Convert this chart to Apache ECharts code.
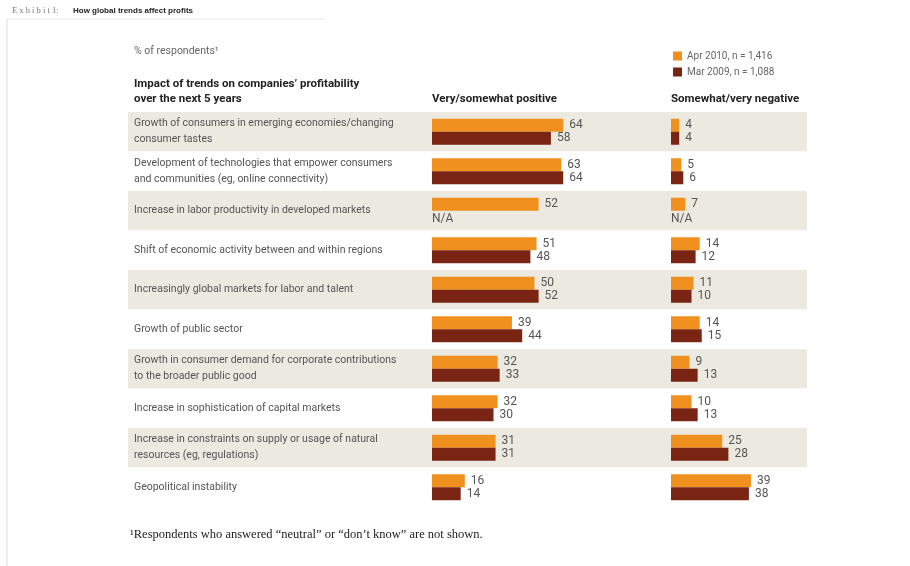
<!DOCTYPE html>
<html>
<head>
<meta charset="utf-8">
<script src="https://cdn.jsdelivr.net/npm/echarts@6/dist/echarts.min.js"></script>
<style>
  html, body { margin: 0; padding: 0; background: #fff; }
  #chart { width: 910px; height: 566px; }
</style>
</head>
<body>
<div id="chart"></div>
<script>
const trends = [
  "Growth of consumers in emerging economies/changing\nconsumer tastes",
  "Development of technologies that empower consumers\nand communities (eg, online connectivity)",
  "Increase in labor productivity in developed markets",
  "Shift of economic activity between and within regions",
  "Increasingly global markets for labor and talent",
  "Growth of public sector",
  "Growth in consumer demand for corporate contributions\nto the broader public good",
  "Increase in sophistication of capital markets",
  "Increase in constraints on supply or usage of natural\nresources (eg, regulations)",
  "Geopolitical instability"
];
const seriesNames = ["Apr 2010, n = 1,416", "Mar 2009, n = 1,088"];
const positive2010 = [64, 63, 52, 51, 50, 39, 32, 32, 31, 16];
const positive2009 = [58, 64, null, 48, 52, 44, 33, 30, 31, 14];
const negative2010 = [4, 5, 7, 14, 11, 14, 9, 10, 25, 39];
const negative2009 = [4, 6, null, 12, 10, 15, 13, 13, 28, 38];

const orange = "#f0901f";
const brown = "#7a2413";
const narrow = "Roboto, 'Liberation Sans Narrow', sans-serif";

// N/A entries get a zero-length bar whose label reads N/A
const toData = (arr) => arr.map((v) =>
  v === null
    ? { value: 0, label: { formatter: "N/A", position: "insideLeft", distance: 0, offset: [0, 2] } }
    : v
);

const makeBar = (name, values, idx, color) => ({
  name: name,
  type: "bar",
  xAxisIndex: idx,
  yAxisIndex: idx,
  data: toData(values),
  barWidth: 13,
  barGap: "0%",
  itemStyle: { color: color },
  label: {
    show: true,
    position: "right",
    distance: 6,
    color: "#555",
    fontFamily: narrow,
    fontSize: 12
  },
  silent: true
});

const chart = echarts.init(document.getElementById("chart"));

const option = {
  animation: false,
  textStyle: { fontFamily: narrow },
  legend: {
    orient: "vertical",
    left: 668,
    top: 46,
    itemWidth: 9,
    itemHeight: 9,
    itemGap: 6,
    icon: "rect",
    textStyle: { color: "#666", fontSize: 10, fontFamily: narrow },
    data: seriesNames
  },
  grid: [
    { left: 432, top: 112, width: 205, height: 395 },
    { left: 671, top: 112, width: 205, height: 395 },
    { left: 128, top: 112, width: 679, height: 395 }
  ],
  xAxis: [0, 1, 2].map((i) => ({
    type: "value",
    gridIndex: i,
    min: 0,
    max: 100,
    show: false
  })),
  yAxis: [0, 1, 2].map((i) => ({
    type: "category",
    gridIndex: i,
    inverse: true,
    data: trends,
    z: i === 2 ? 0 : 2,
    axisLine: { show: false },
    axisTick: { show: false },
    axisLabel: i === 2
      ? { inside: true, margin: 6, color: "#555", fontSize: 10.5, lineHeight: 16, fontFamily: narrow }
      : { show: false },
    splitArea: i === 2
      ? { show: true, areaStyle: { color: ["#ece9e0", "#ffffff"] } }
      : { show: false },
    splitLine: { show: false }
  })),
  series: [
    makeBar(seriesNames[0], positive2010, 0, orange),
    makeBar(seriesNames[1], positive2009, 0, brown),
    makeBar(seriesNames[0], negative2010, 1, orange),
    makeBar(seriesNames[1], negative2009, 1, brown)
  ],
  graphic: [
    { type: "line", shape: { x1: 7, y1: 19, x2: 7, y2: 566 }, style: { stroke: "#ddd", lineWidth: 1 } },
    { type: "line", shape: { x1: 7, y1: 19, x2: 325, y2: 19 }, style: { stroke: "#e6e6e6", lineWidth: 1 } },
    { type: "text", left: 12, top: 6, style: { text: "E x h i b i t 1:", fill: "#777", font: "8.5px 'Liberation Serif', serif" } },
    { type: "text", left: 73, top: 7, style: { text: "How global trends affect profits", fill: "#222", font: "bold 8px 'Liberation Sans', sans-serif" } },
    { type: "text", left: 134, top: 46, style: { text: "% of respondents\u00b9", fill: "#666", font: "10.5px " + narrow } },
    { type: "text", left: 134, top: 77, style: { text: "Impact of trends on companies\u2019 profitability\nover the next 5 years", fill: "#222", font: "bold 11.5px " + narrow, lineHeight: 15 } },
    { type: "text", left: 432, top: 93, style: { text: "Very/somewhat positive", fill: "#222", font: "bold 11.5px " + narrow } },
    { type: "text", left: 671, top: 93, style: { text: "Somewhat/very negative", fill: "#222", font: "bold 11.5px " + narrow } },
    { type: "text", left: 130, top: 528, style: { text: "\u00b9Respondents who answered \u201cneutral\u201d or \u201cdon\u2019t know\u201d are not shown.", fill: "#222", font: "12.5px 'Liberation Serif', 'DejaVu Serif', serif" } }
  ]
};

chart.setOption(option);
</script>
</body>
</html>
